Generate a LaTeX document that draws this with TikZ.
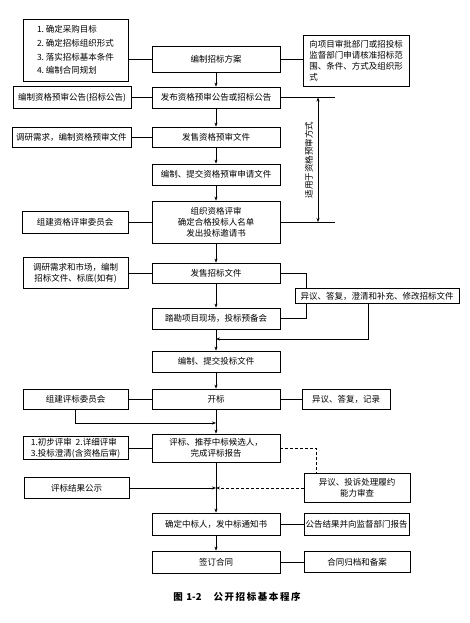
\documentclass[tikz,border=0pt]{standalone}
\usepackage{fontspec}
\setmainfont{Noto Sans CJK SC}
\usetikzlibrary{arrows.meta}
\begin{document}
\begin{tikzpicture}[x=1pt,y=-1pt,
  box/.style={draw, line width=0.8pt, inner sep=1pt, align=center, font=\fontsize{8.5}{11}\selectfont},
  link/.style={line width=0.6pt},
  arr/.style={line width=0.6pt, -{Stealth[length=4pt,width=3pt]}},
  dbl/.style={line width=0.6pt, {Stealth[length=4pt,width=3pt]}-{Stealth[length=4pt,width=3pt]}},
  dsh/.style={dash pattern=on 3pt off 2pt}
]
\useasboundingbox[fill=white] (0,0) rectangle (469,623);

% main column
\node[box, minimum width=128pt, minimum height=26pt] (plan) at (216,59) {编制招标方案};
\node[box, minimum width=128pt, minimum height=21pt] (publish) at (216,97.5) {发布资格预审公告或招标公告};
\node[box, minimum width=128pt, minimum height=20pt] (sellpq) at (216,137) {发售资格预审文件};
\node[box, minimum width=128pt, minimum height=21pt] (submitpq) at (216,174.5) {编制、提交资格预审申请文件};
\node[box, minimum width=128pt, minimum height=42pt] (review) at (216,222) {组织资格评审\\确定合格投标人名单\\发出投标邀请书};
\node[box, minimum width=128pt, minimum height=20pt] (selldoc) at (216,273) {发售招标文件};
\node[box, minimum width=128pt, minimum height=21pt] (site) at (216,318.5) {踏勘项目现场，投标预备会};
\node[box, minimum width=128pt, minimum height=21pt] (submitbid) at (216,361.5) {编制、提交投标文件};
\node[box, minimum width=128pt, minimum height=20pt] (open) at (216,399) {开标};
\node[box, minimum width=128pt, minimum height=28pt] (evaluate) at (216,448) {评标、推荐中标候选人，\\完成评标报告};
\node[box, minimum width=128pt, minimum height=22pt] (award) at (216,524) {确定中标人，发中标通知书};
\node[box, minimum width=128pt, minimum height=22pt] (contract) at (216,562) {签订合同};

% left column
\node[box, align=left, minimum width=105pt, minimum height=62pt] (list) at (75.5,50)
  {1.\ 确定采购目标\\[2.6pt]2.\ 确定招标组织形式\\[2.6pt]3.\ 落实招标基本条件\\[2.6pt]4.\ 编制合同规划};
\node[box, minimum width=118pt, minimum height=22pt] (noticeL) at (72,97.5) {编制资格预审公告(招标公告)};
\node[box, minimum width=119pt, minimum height=20pt] (research1) at (71.5,137) {调研需求，编制资格预审文件};
\node[box, minimum width=106pt, minimum height=22pt] (committee1) at (75,222) {组建资格评审委员会};
\node[box, minimum width=105pt, minimum height=31pt] (research2) at (75.5,273) {调研需求和市场，编制\\招标文件、标底(如有)};
\node[box, minimum width=105pt, minimum height=20pt] (committee2) at (75.5,399) {组建评标委员会};
\node[box, align=left, minimum width=105pt, minimum height=23pt] (steps) at (75.5,448) {1.初步评审\ \ 2.详细评审\\3.投标澄清(含资格后审)};
\node[box, minimum width=105pt, minimum height=21pt] (publicity) at (76.5,488) {评标结果公示};

% right column
\node[box, align=left, minimum width=106pt, minimum height=51pt] (approve) at (356,60.5)
  {向项目审批部门或招投标\\监督部门申请核准招标范\\围、条件、方式及组织形\\式};
\node[box, minimum width=164pt, minimum height=15pt] (objection1) at (377,296) {异议、答复，澄清和补充、修改招标文件};
\node[box, minimum width=88pt, minimum height=20pt] (record) at (346,399) {异议、答复，记录};
\node[box, minimum width=106pt, minimum height=29pt] (complaint) at (357,488) {异议、投诉处理履约\\能力审查};
\node[box, minimum width=105pt, minimum height=22pt] (report) at (356.5,524) {公告结果并向监督部门报告};
\node[box, minimum width=106pt, minimum height=21pt] (archive) at (357,562) {合同归档和备案};

% side links
\draw[link] (plan.west) -- (plan.west -| list.east);
\draw[link] (plan.east) -- (plan.east -| approve.west);
\draw[link] (noticeL.east) -- (publish.west);
\draw[link] (research1.east) -- (sellpq.west);
\draw[link] (committee1.east) -- (review.west);
\draw[link] (research2.east) -- (selldoc.west);
\draw[link] (committee2.east) -- (open.west);
\draw[link] (open.east) -- (record.west);
\draw[link] (steps.east) -- (evaluate.west);
\draw[link] (award.east) -- (report.west);
\draw[link] (contract.east) -- (archive.west);

% main arrows
\draw[arr] (plan.south) -- (publish.north);
\draw[arr] (publish.south) -- (sellpq.north);
\draw[arr] (sellpq.south) -- (submitpq.north);
\draw[arr] (submitpq.south) -- (review.north);
\draw[arr] (review.south) -- (selldoc.north);
\draw[arr] (selldoc.south) -- (site.north);
\draw[arr] (site.south) -- (submitbid.north);
\draw[arr] (submitbid.south) -- (open.north);
\draw[arr] (open.south) -- (evaluate.north);
\draw[arr] (evaluate.south) -- (award.north);
\draw[arr] (award.south) -- (contract.north);

% prequalification bracket
\coordinate (r1) at (335,97.5);
\coordinate (r2) at (335,222);
\coordinate (v1) at (318,97.5);
\coordinate (v2) at (318,222);
\draw[link] (publish.east) -- (r1);
\draw[link] (review.east) -- (r2);
\draw[dbl] (v1) -- (v2);
\node[rotate=90, font=\fontsize{8.5}{10}\selectfont] (apply) at (309,160) {适用于资格预审方式};

% objection bracket
\coordinate (oj) at (306,296);
\draw[link] (selldoc.east) -| (oj |- objection1.north);
\draw[link] (oj |- objection1.south) |- (site.east);
\coordinate (ob) at (368,296);
\coordinate (m1) at (216,339);
\draw[arr] (ob |- objection1.south) |- (m1);

% committee to evaluation
\coordinate (m2) at (216,423);
\draw[arr] (committee2.south) |- (m2);

% complaint loop
\coordinate (dq) at (316,448);
\coordinate (m3) at (216,488);
\draw[link,dsh] (evaluate.east) -- (dq) -- (dq |- complaint.north);
\draw[arr,dsh] (complaint.west) -- (m3);
\draw[arr] (publicity.east) -- (m3);

% caption
\node[font=\fontsize{9.5}{11}\selectfont\bfseries] (cap) at (237,597) {图\hspace{3.5pt}1-2\hspace{12pt}公\,开\,招\,标\,基\,本\,程\,序};
\end{tikzpicture}
\end{document}
